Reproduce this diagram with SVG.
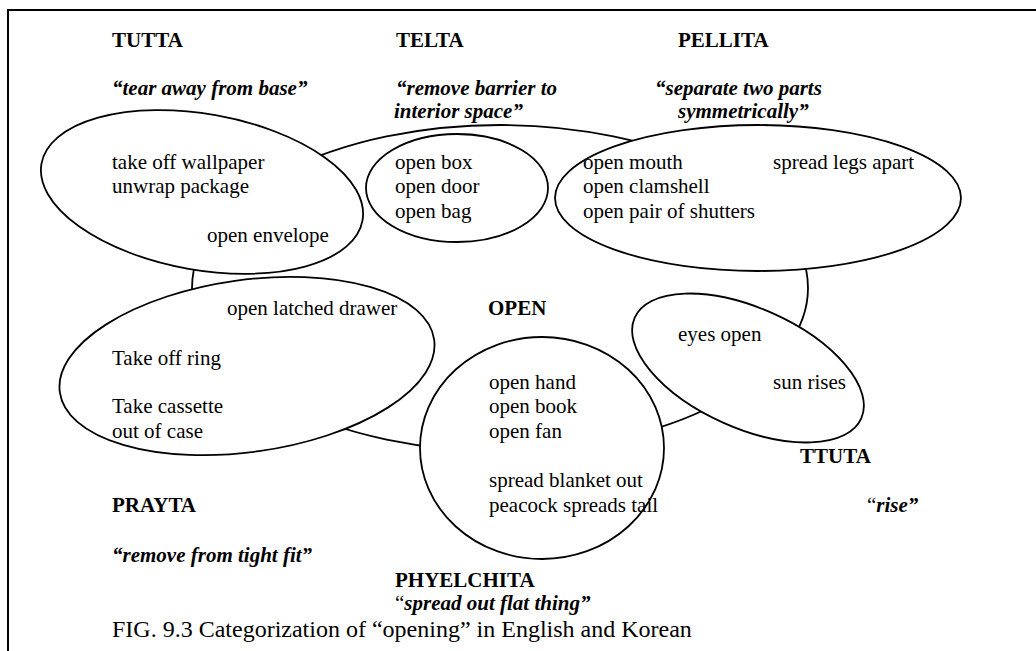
<svg xmlns="http://www.w3.org/2000/svg" width="1036" height="651" viewBox="0 0 1036 651">
<style>
.sh{fill:#fff;stroke:#000;stroke-width:1.8}
text{font-family:"Liberation Serif","Times New Roman",serif;font-size:21px;fill:#000}
.b{font-weight:bold}
.bi{font-weight:bold;font-style:italic}
.cap{font-size:24px}
</style>
<rect width="1036" height="651" fill="#fff"/>
<path d="M8 651 V10 H1036" fill="none" stroke="#000" stroke-width="2"/>
<g id="connectors">
<ellipse id="open-outline" class="sh" cx="500" cy="288" rx="308" ry="163"/>
</g>
<g id="open">
<text x="488" y="315" class="b">OPEN</text>
</g>
<g id="tutta">
<ellipse class="sh" cx="202" cy="192" rx="163" ry="78" transform="rotate(10 202 192)"/>
<text x="112" y="47" class="b">TUTTA</text>
<text x="112" y="95" class="bi">“tear away from base”</text>
<text x="112" y="169">take off wallpaper</text>
<text x="112" y="193">unwrap package</text>
<text x="207" y="242">open envelope</text>
</g>
<g id="telta">
<ellipse class="sh" cx="457" cy="188" rx="91" ry="54"/>
<text x="396" y="47" class="b">TELTA</text>
<text x="396" y="95" class="bi">“remove barrier to</text>
<text x="394" y="118" class="bi">interior space”</text>
<text x="395" y="169">open box</text>
<text x="395" y="193">open door</text>
<text x="395" y="218">open bag</text>
</g>
<g id="pellita">
<ellipse class="sh" cx="758" cy="198" rx="203" ry="73"/>
<text x="678" y="47" class="b">PELLITA</text>
<text x="655" y="95" class="bi">“separate two parts</text>
<text x="678" y="118" class="bi">symmetrically”</text>
<text x="583" y="169">open mouth</text>
<text x="583" y="193">open clamshell</text>
<text x="583" y="218">open pair of shutters</text>
<text x="773" y="169">spread legs apart</text>
</g>
<g id="prayta">
<ellipse class="sh" cx="247" cy="366" rx="189" ry="86" transform="rotate(-8 247 366)"/>
<text x="227" y="315">open latched drawer</text>
<text x="112" y="365">Take off ring</text>
<text x="112" y="413">Take cassette</text>
<text x="112" y="438">out of case</text>
<text x="112" y="512" class="b">PRAYTA</text>
<text x="112" y="562" class="bi">“remove from tight fit”</text>
</g>
<g id="phyelchita">
<ellipse class="sh" cx="542" cy="448" rx="122" ry="111"/>
<text x="489" y="389">open hand</text>
<text x="489" y="413">open book</text>
<text x="489" y="438">open fan</text>
<text x="489" y="487">spread blanket out</text>
<text x="489" y="512">peacock spreads tail</text>
<text x="395" y="587" class="b">PHYELCHITA</text>
<text x="395" y="610">“<tspan class="bi">spread out flat thing”</tspan></text>
</g>
<g id="ttuta">
<ellipse class="sh" cx="748" cy="368" rx="124" ry="60" transform="rotate(24 748 368)"/>
<text x="678" y="341">eyes open</text>
<text x="773" y="389">sun rises</text>
<text x="800" y="463" class="b">TTUTA</text>
<text x="867" y="512">“<tspan class="bi">rise”</tspan></text>
</g>
<text x="112" y="637" class="cap">FIG. 9.3 Categorization of “opening” in English and Korean</text>
</svg>
